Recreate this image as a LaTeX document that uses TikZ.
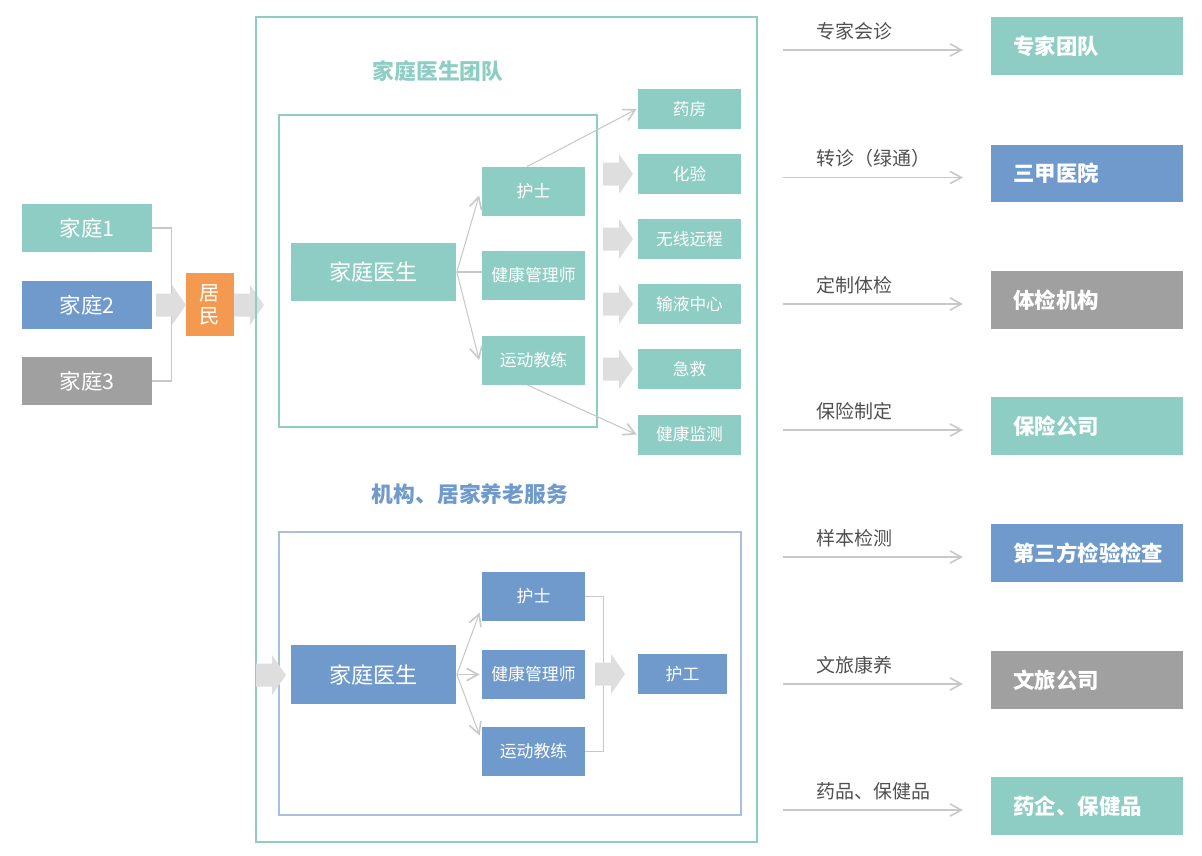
\documentclass[tikz,border=0pt]{standalone}
\usepackage{fontspec}
\setmainfont{Noto Sans CJK SC}
\usetikzlibrary{arrows.meta}

\definecolor{teal}{RGB}{142,205,196}
\definecolor{steel}{RGB}{112,154,203}
\definecolor{stone}{RGB}{160,160,160}
\definecolor{tangerine}{RGB}{243,154,80}
\definecolor{fatgray}{RGB}{221,222,221}
\definecolor{wiregray}{RGB}{200,200,200}
\definecolor{paleblue}{RGB}{168,192,222}
\definecolor{labelgray}{RGB}{80,80,80}

\begin{document}
\begin{tikzpicture}[x=0.02cm,y=-0.02cm,
    box/.style={inner sep=0pt, text=white},
    famgroup/.style={box, minimum width=2.6cm, minimum height=0.96cm, font=\fontsize{12.2}{14}\selectfont},
    docbox/.style={box, minimum width=3.32cm, minimum height=1.17cm, font=\fontsize{12.6}{15}\selectfont},
    staff/.style={box, minimum width=2.06cm, minimum height=0.98cm, font=\fontsize{9.6}{11}\selectfont},
    service/.style={box, fill=teal, minimum width=2.06cm, minimum height=0.8cm, font=\fontsize{9.5}{11}\selectfont},
    partner/.style={box, minimum width=3.84cm, minimum height=1.16cm},
    partnertext/.style={anchor=west, text=white, inner sep=0pt, font=\fontsize{12.2}{14}\selectfont\bfseries},
    linklabel/.style={anchor=south west, inner sep=0pt, text=labelgray, font=\fontsize{10.8}{12}\selectfont},
    wire/.style={draw=wiregray, line width=0.6pt},
    link/.style={wire, -{Straight Barb[length=6.5pt,width=7pt,line width=0.9pt]}},
    fatarrow/.pic={\fill[fatgray] (0,-11.5) -- (16,-11.5) -- (16,-20) -- (30,0) -- (16,20) -- (16,11.5) -- (0,11.5) -- cycle;}
  ]
  \useasboundingbox (0,0) rectangle (1202,855);

  % families and residents
  \node[famgroup, fill=teal]  (fam1) at (87,228) {家庭1};
  \node[famgroup, fill=steel] (fam2) at (87,305) {家庭2};
  \node[famgroup, fill=stone] (fam3) at (87,381) {家庭3};
  \draw[wire] (fam1.east) -- ++(19,0) |- (fam3.east);
  \pic at (156,305) {fatarrow};
  \node[box, fill=tangerine, minimum width=0.96cm, minimum height=1.26cm, align=center,
        font=\fontsize{11.5}{13}\selectfont] (resident) at (210,304.5) {居\\民};
  \pic at (234,305) {fatarrow};

  % outer frame
  \draw[teal, line width=0.7pt] (256,17) rectangle (757,842);

  % family doctor team
  \node[text=teal, font=\fontsize{12.4}{14}\selectfont\bfseries] (teamtitle) at (438,71) {家庭医生团队};
  \draw[teal, line width=0.6pt] (279,115) rectangle (597,427);
  \node[docbox, fill=teal] (doc1) at (373.5,272) {家庭医生};
  \node[staff, fill=teal] (nurse1) at (533.5,191.5) {护士};
  \node[staff, fill=teal] (mgr1) at (533.5,275.5) {健康管理师};
  \node[staff, fill=teal] (coach1) at (533.5,360) {运动教练};
  \draw[link] (doc1.east) -- ([xshift=-0.05cm,yshift=-0.08cm]nurse1.west);
  \draw[wire] (doc1.east) -- (doc1.east -| mgr1.west);
  \draw[link] (doc1.east) -- ([xshift=-0.05cm]coach1.west);

  \node[service] (pharmacy) at (689.5,109) {药房};
  \node[service] (lab) at (689.5,174) {化验};
  \node[service] (remote) at (689.5,239) {无线远程};
  \node[service] (infusion) at (689.5,304) {输液中心};
  \node[service] (rescue) at (689.5,369) {急救};
  \node[service] (monitor) at (689.5,434.5) {健康监测};
  \foreach \y in {174,239,304,369}
    \pic at (603,\y) {fatarrow};
  \draw[link] ([xshift=-0.13cm]nurse1.north) -- ([xshift=-0.02cm]pharmacy.west);
  \draw[link] ([xshift=-0.13cm]coach1.south) -- ([xshift=-0.02cm]monitor.west);

  % elderly care services
  \node[text=steel, font=\fontsize{12.4}{14}\selectfont\bfseries] (caretitle) at (470,494) {机构、居家养老服务};
  \draw[paleblue, line width=0.7pt] (279,532) rectangle (741,815);
  \pic at (256,675) {fatarrow};
  \node[docbox, fill=steel] (doc2) at (373.5,674.5) {家庭医生};
  \node[staff, fill=steel] (nurse2) at (533.5,596.5) {护士};
  \node[staff, fill=steel] (mgr2) at (533.5,674.5) {健康管理师};
  \node[staff, fill=steel] (coach2) at (533.5,751.5) {运动教练};
  \draw[link] (doc2.east) -- ([xshift=-0.04cm,yshift=-0.32cm]nurse2.west);
  \draw[link] (doc2.east) -- ([xshift=-0.04cm]mgr2.west);
  \draw[link] (doc2.east) -- ([xshift=-0.04cm,yshift=0.32cm]coach2.west);
  \draw[wire] (nurse2.east) -- ++(18,0) |- (coach2.east);
  \pic at (595,674) {fatarrow};
  \node[box, fill=steel, minimum width=1.78cm, minimum height=0.8cm,
        font=\fontsize{9.6}{11}\selectfont] (carer) at (682.5,674) {护工};

  % partners
  \foreach \y/\col/\name/\how [count=\i] in {
      46/teal/专家团队/专家会诊,
      173.5/steel/三甲医院/转诊（绿通）,
      300/stone/体检机构/定制体检,
      426/teal/保险公司/保险制定,
      553/steel/第三方检验检查/样本检测,
      680/stone/文旅公司/文旅康养,
      806/teal/药企、保健品/药品、保健品} {
    \node[partner, fill=\col] (partner\i) at (1087,\y) {};
    \node[partnertext] (pname\i) at (1013,\y) {\name};
    \coordinate (from\i) at (783,\y+4);
    \coordinate (to\i) at (963,\y+4);
    \draw[link] (from\i) -- (to\i);
    \node[linklabel] (plabel\i) at (816,\y-6) {\how};
  }
\end{tikzpicture}
\end{document}
